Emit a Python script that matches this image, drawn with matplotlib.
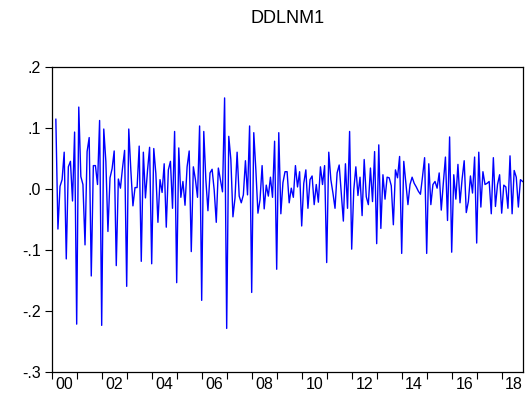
import numpy as np
import matplotlib
matplotlib.use("Agg")
import matplotlib.pyplot as plt

title = "DDLNM1"
start_year = 2000
start_month = 3  # first observation: 2000M03

vals_a = [0.114, -0.066, 0.004, 0.015, 0.060, -0.115, 0.036, 0.045, -0.020, 0.093,
          -0.222, 0.134, 0.020, 0.007, -0.092, 0.061, 0.084, -0.143, 0.038, 0.038,
          0.007, 0.112, -0.224, 0.098, 0.045, -0.070, 0.018,
          0.033, 0.062, -0.126, 0.016, 0.001, 0.034, 0.063, -0.160, 0.098, 0.030,
          -0.028, 0.002, 0.002, 0.070, -0.119, 0.060, -0.015, 0.030, 0.068, -0.123,
          0.066, 0.025, -0.055, 0.015, -0.006, 0.041, -0.063, 0.031]
vals_b = [0.045, -0.032, 0.094, -0.154, 0.067, -0.014, 0.012, -0.027, 0.036, 0.062,
          -0.103, 0.036, 0.015, -0.014, 0.103, -0.183, 0.094, 0.015, -0.036, 0.026,
          0.032, -0.002, -0.055, 0.034, 0.015, -0.005, 0.149, -0.229, 0.086,
          0.048, -0.046, -0.015, 0.060, -0.012, -0.023, -0.010, 0.046, -0.010, 0.103,
          -0.170, 0.092, 0.031, -0.040, -0.018, 0.038, -0.033, 0.006, -0.012, 0.019,
          -0.014, 0.078, -0.132, 0.092, -0.041, 0.010, 0.028, 0.028]
vals_c = [-0.023, 0.001, -0.014, 0.038, 0.003, 0.028, -0.061, 0.009, 0.031, -0.032,
          0.015, 0.021, -0.026, 0.007, -0.022, 0.036, 0.007, 0.038, -0.121, 0.060,
          0.015, -0.007, -0.032, 0.026, 0.039, -0.007, -0.053, 0.041,
          -0.032, 0.094, -0.099, -0.002, 0.036, -0.011, 0.019, -0.044, 0.048, -0.013,
          -0.026, 0.034, -0.021, 0.061, -0.090, 0.072, -0.065, 0.023, -0.017, 0.019,
          0.018, 0.005, -0.059, 0.031, 0.018, 0.053, -0.106, 0.045]
vals_d = [0.009, -0.026, 0.007, 0.019, 0.009, 0.003, -0.004, -0.009, 0.020, 0.051, -0.106,
          0.041, -0.026, 0.007, 0.012, 0.001, 0.026, -0.035, 0.010, 0.052, -0.052, 0.085, -0.104,
          0.023, -0.017, 0.040, -0.023, 0.016, 0.046, -0.039, -0.021, 0.021, -0.007, 0.052, -0.089,
          0.060, -0.030, 0.028, 0.007, 0.009, 0.012, -0.041, 0.051, -0.029, 0.007, 0.023,
          -0.040, 0.006, 0.003, -0.032, 0.054, -0.041, 0.030, 0.019, -0.030, 0.015, 0.012]

year_labels = ["00", "02", "04", "06", "08", "10", "12", "14", "16", "18"]
ytick_vals = [0.2, 0.1, 0.0, -0.1, -0.2, -0.3]
ytick_labels = [".2", ".1", ".0", "-.1", "-.2", "-.3"]

values = np.array(vals_a + vals_b + vals_c + vals_d)
n = len(values)
x = start_year + (start_month - 1 + np.arange(n)) / 12.0

plt.rcParams['font.family'] = ['Liberation Sans', 'DejaVu Sans']
fig = plt.figure(figsize=(5.29, 4.05), dpi=100)
ax = fig.add_axes([0.0977, 0.0822, 0.8915, 0.7528])
ax.plot(x, values, color='#0000FF', lw=1.0)

ax.set_xlim(2000, 2018.864)
ax.set_ylim(-0.3, 0.2)

ax.set_xticks(np.arange(2000, 2019))
ax.set_xticklabels([])
ax.set_xticks([2000 + 2 * i + 0.5 for i in range(len(year_labels))], minor=True)
ax.set_xticklabels(year_labels, minor=True)
ax.tick_params(axis='x', which='major', direction='out', length=5, width=0.8)
ax.tick_params(axis='x', which='minor', length=0, labelsize=11.5, pad=4)

ax.set_yticks(ytick_vals)
ax.set_yticklabels(ytick_labels)
ax.tick_params(axis='y', direction='out', length=5, width=0.8, labelsize=11.5, pad=3)

for s in ax.spines.values():
    s.set_linewidth(0.9)
    s.set_color('black')

fig.text(0.5435, 0.955, title, ha='center', va='center', fontsize=13)

fig.savefig("out.png", dpi=100)
